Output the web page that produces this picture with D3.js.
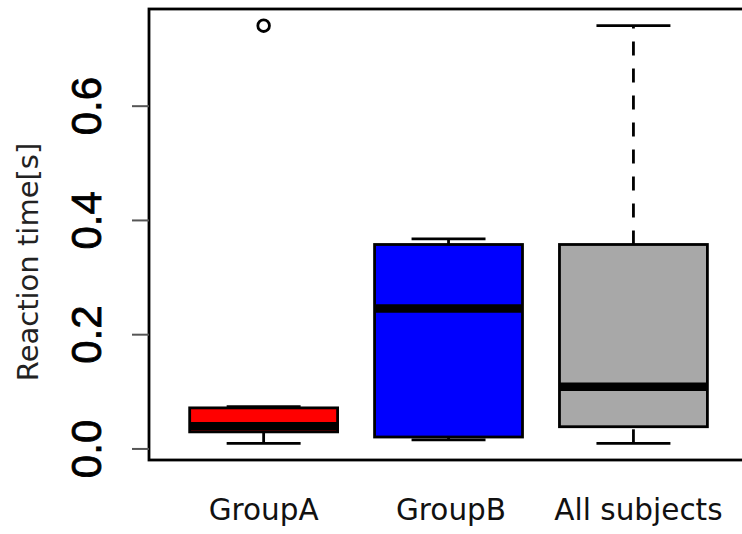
<!DOCTYPE html>
<html><head><meta charset="utf-8">
<script src="https://cdn.jsdelivr.net/npm/d3@7"></script>
<style>html,body{margin:0;padding:0;background:#fff;}svg{display:block;}</style>
</head><body>
<div id="chart"></div>
<script>
// data
const categories = ["GroupA", "GroupB", "All subjects"];
const minValues = [0.009, 0.015, 0.009];
const q1Values = [0.029, 0.020, 0.038];
const medianValues = [0.039, 0.245, 0.108];
const q3Values = [0.071, 0.357, 0.357];
const maxValues = [0.073, 0.367, 0.740];
const outliers = [[0.740], [], []];
const fills = ["#FF0000", "#0000FF", "#A8A8A8"];
const yTicks = [0.0, 0.2, 0.4, 0.6];
const yTickLabels = ["0.0", "0.2", "0.4", "0.6"];
const yTitle = "Reaction time[s]";

const W = 742, H = 534;
const svg = d3.select("#chart").append("svg").attr("width", W).attr("height", H);

const pLeft = 149, pTop = 9, pBottom = 460;
const n = categories.length;
const xr = [0.5 - 0.04 * n, n + 0.5 + 0.04 * n];
const x = d3.scaleLinear().domain(xr).range([pLeft, pLeft + (xr[1] - xr[0]) * 184.9]);
const allVals = minValues.concat(maxValues, outliers.flat());
const dmin = d3.min(allVals), dmax = d3.max(allVals), ext = 0.04 * (dmax - dmin);
const y = d3.scaleLinear().domain([dmin - ext, dmax + ext]).range([pBottom, pTop]);

const boxW = 0.8, stapW = 0.4;
const lw = 2.8;

const g = svg.append("g");
categories.forEach((c, i) => {
  const cx = x(i + 1);
  const bx0 = x(i + 1 - boxW / 2), bx1 = x(i + 1 + boxW / 2);
  const sx0 = x(i + 1 - stapW / 2), sx1 = x(i + 1 + stapW / 2);
  // whiskers (dashed)
  g.append("line").attr("x1", cx).attr("x2", cx).attr("y1", y(minValues[i])).attr("y2", y(q1Values[i]))
    .attr("stroke", "#000").attr("stroke-width", lw).attr("stroke-dasharray", "14,13");
  g.append("line").attr("x1", cx).attr("x2", cx).attr("y1", y(q3Values[i])).attr("y2", y(maxValues[i]))
    .attr("stroke", "#000").attr("stroke-width", lw).attr("stroke-dasharray", "14,13");
  // staples
  g.append("line").attr("x1", sx0).attr("x2", sx1).attr("y1", y(minValues[i])).attr("y2", y(minValues[i]))
    .attr("stroke", "#000").attr("stroke-width", lw);
  g.append("line").attr("x1", sx0).attr("x2", sx1).attr("y1", y(maxValues[i])).attr("y2", y(maxValues[i]))
    .attr("stroke", "#000").attr("stroke-width", lw);
  // box
  g.append("rect").attr("x", bx0).attr("width", bx1 - bx0)
    .attr("y", y(q3Values[i])).attr("height", y(q1Values[i]) - y(q3Values[i]))
    .attr("fill", fills[i]).attr("stroke", "#000").attr("stroke-width", lw);
  // median
  g.append("line").attr("x1", bx0).attr("x2", bx1).attr("y1", y(medianValues[i])).attr("y2", y(medianValues[i]))
    .attr("stroke", "#000").attr("stroke-width", 8.5);
  // outliers
  outliers[i].forEach(v => {
    g.append("circle").attr("cx", cx).attr("cy", y(v)).attr("r", 5.8)
      .attr("fill", "none").attr("stroke", "#000").attr("stroke-width", 2.8);
  });
  // category labels
  svg.append("text").attr("x", cx + i * 2.5).attr("y", 520).attr("text-anchor", "middle")
    .attr("font-family", "DejaVu Sans").attr("font-size", 29.5).attr("fill", "#111").text(c);
});

// frame
svg.append("rect").attr("x", pLeft).attr("y", pTop).attr("width", x.range()[1] - pLeft).attr("height", pBottom - pTop)
  .attr("fill", "none").attr("stroke", "#000").attr("stroke-width", 2.8);

// y axis
const ya = svg.append("g").attr("transform", `translate(${pLeft},0)`)
  .call(d3.axisLeft(y).tickValues(yTicks).tickSize(17).tickFormat((d, i) => yTickLabels[i]));
ya.select(".domain").remove();
ya.selectAll(".tick line").attr("stroke", "#555").attr("stroke-width", 2);
ya.selectAll(".tick text")
  .attr("font-family", "Liberation Sans, Arial, sans-serif").attr("font-size", 42).attr("fill", "#000")
  .attr("stroke", "#000").attr("stroke-width", 0.8)
  .attr("text-anchor", "middle").attr("dy", null).attr("x", null)
  .attr("transform", "translate(-48.5,0) rotate(-90)");

// y title
svg.append("text").attr("transform", `translate(38,262) rotate(-90)`).attr("text-anchor", "middle")
  .attr("font-family", "DejaVu Sans").attr("font-size", 29).attr("fill", "#222").text(yTitle);
</script>
</body></html>
